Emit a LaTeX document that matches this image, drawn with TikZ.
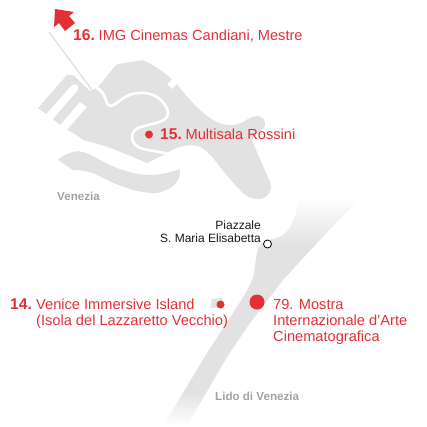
\documentclass[tikz,border=0pt]{standalone}
\usepackage{fontspec}
\setmainfont{Liberation Sans}
\definecolor{vred}{HTML}{E42F36}
\definecolor{land}{HTML}{E2E2E2}
\definecolor{lab}{HTML}{A3A3A3}
\newcommand{\numb}[1]{{\fontsize{15.6}{16}\selectfont\bfseries #1}}
\tikzset{
  redlabel/.style={text=vred,font=\fontsize{14.62}{16}\selectfont,inner sep=0pt,anchor=base west,align=left},
  graylabel/.style={text=lab,font=\fontsize{11.6}{13}\selectfont\bfseries,inner sep=0pt,anchor=base west},
  blacklabel/.style={text=black!90,font=\fontsize{12}{13}\selectfont,inner sep=0pt,anchor=base east},
  reddot/.style={circle,fill=vred,inner sep=0pt},
  landshape/.style={fill=land,draw=none},
  canal/.style={draw=white,line cap=round,line join=round}
}
\begin{document}
\begin{tikzpicture}[x=1pt,y=-1pt]
\useasboundingbox (0,0) rectangle (427,426);
% Venice main with docks
\fill[landshape] (98,87) -- (116,65) .. controls (125,62) and (135,62) .. (142,60)
  .. controls (150,63) and (160,69) .. (167,75) -- (172,79) -- (167,84) -- (172,89) -- (177,84)
  .. controls (185,95) and (200,112) .. (213,120) .. controls (225,127) and (235,126) .. (243,122)
  .. controls (248,119) and (252,116) .. (257,116) .. controls (262,116) and (266,120) .. (265,126)
  .. controls (262,132) and (254,134) .. (252,140) .. controls (258,155) and (265,170) .. (270,182)
  .. controls (273,190) and (268,198) .. (260,199) .. controls (252,200) and (245,196) .. (240,190)
  .. controls (232,182) and (226,174) .. (220,167) .. controls (213,158) and (208,150) .. (198,146)
  .. controls (188,144) and (178,146) .. (167,153) -- (147,163)
  .. controls (135,158) and (122,152) .. (110,148) .. controls (100,144) and (90,142) .. (83,140)
  .. controls (77,135) and (72,132) .. (67,130)
  -- (87,107) -- (80,102) -- (60,125) -- (53,119) -- (78,90) .. controls (80,85) and (75,82) .. (71,86)
  -- (46,114) -- (38,108) -- (67,75) -- (73,75) -- (90,91) -- cycle;
% Giudecca
\fill[landshape] (58,160) .. controls (62,156) and (66,154) .. (70,153)
  .. controls (75,151) and (78,151) .. (83,152) .. controls (90,154) and (95,157) .. (100,160)
  .. controls (110,165) and (116,168) .. (123,170) .. controls (132,173) and (140,175) .. (150,175)
  .. controls (160,175) and (172,172) .. (180,169) .. controls (180,173) and (180,177) .. (178,180)
  .. controls (175,185) and (172,187) .. (170,188) .. controls (165,191) and (161,192) .. (157,193)
  .. controls (148,193) and (141,192) .. (133,190) .. controls (124,187) and (115,184) .. (107,180)
  .. controls (102,177) and (97,175) .. (93,173) .. controls (86,171) and (80,170) .. (73,170) -- cycle;
% Grand Canal
\draw[canal,line width=2.6pt] (95,86.5) .. controls (101,90) and (104,94) .. (106,100)
  .. controls (107,104) and (108,106) .. (111,106) .. controls (115,105) and (118,102) .. (122,99)
  .. controls (128,95) and (133,93) .. (140,93)
  .. controls (150,92) and (160,97) .. (165,105) .. controls (169,111) and (169,116) .. (165,119)
  .. controls (160,123) and (150,124) .. (141,127)
  .. controls (134,129) and (132,133) .. (132,137) .. controls (132,143) and (136,147) .. (143,149) -- (170,154);
% Railway causeway
\coordinate (causewayA) at (49,32);
\coordinate (causewayB) at (92,90);
\draw[land,line width=1.4pt] (causewayA) -- (causewayB);
% Lido
\begin{scope}
\clip (303,193) .. controls (298,205) and (295,218) .. (290,227)
  .. controls (286,234) and (280,238) .. (267,240)
  .. controls (260,243) and (258,248) .. (257,253) .. controls (255,262) and (255,272) .. (252,280)
  .. controls (247,292) and (240,302) .. (233,313)
  -- (207,353) -- (163,426) -- (187,426) -- (227,357) -- (250,323) -- (283,280) -- (317,243) -- (360,198) -- cycle;
\shade[top color=white,bottom color=land] (150,196) rectangle (365,246);
\fill[white] (150,185) rectangle (365,196.5);
\fill[land] (150,245.5) rectangle (365,392);
\shade[top color=land,bottom color=white] (150,391.5) rectangle (365,426);
\end{scope}
% Lazzaretto Vecchio
\fill[landshape] (212,299) -- (222,298) -- (223,307) -- (210,308) -- cycle;
% Arrow
\fill[vred] (55,9) -- (74,12) -- (69,16) -- (75,23) -- (65,31) -- (59,23) -- (54,27) -- cycle;
% Labels
\node[redlabel] (n16) at (73,40) {\numb{16.}\kern3.8pt IMG Cinemas Candiani, Mestre};
\node[reddot,minimum size=8pt] (d15) at (149,134.5) {};
\node[redlabel] (n15) at (160,139) {\numb{15.}\kern3.8pt Multisala Rossini};
\node[graylabel] (ve) at (57,200) {Venezia};
\node[blacklabel] (p1) at (261,229) {Piazzale};
\node[blacklabel] (p2) at (261,242) {S. Maria Elisabetta};
\node[circle,draw=black,fill=white,line width=0.8pt,inner sep=0pt,minimum size=8pt] (pc) at (267.5,244) {};
\node[redlabel] (n14) at (10,309) {\numb{14.}};
\node[redlabel] (t14a) at (36,309) {Venice Immersive Island};
\node[redlabel] (t14b) at (36,325) {(Isola del Lazzaretto Vecchio)};
\node[reddot,minimum size=8pt] (d14) at (220.5,304.5) {};
\node[reddot,minimum size=15pt] (d79) at (257,302) {};
\node[redlabel] (t79a) at (273,309) {79. Mostra};
\node[redlabel] (t79b) at (273,325) {Internazionale d'Arte};
\node[redlabel] (t79c) at (273,341) {Cinematografica};
\node[graylabel] (li) at (215,400) {Lido di Venezia};
\end{tikzpicture}
\end{document}
